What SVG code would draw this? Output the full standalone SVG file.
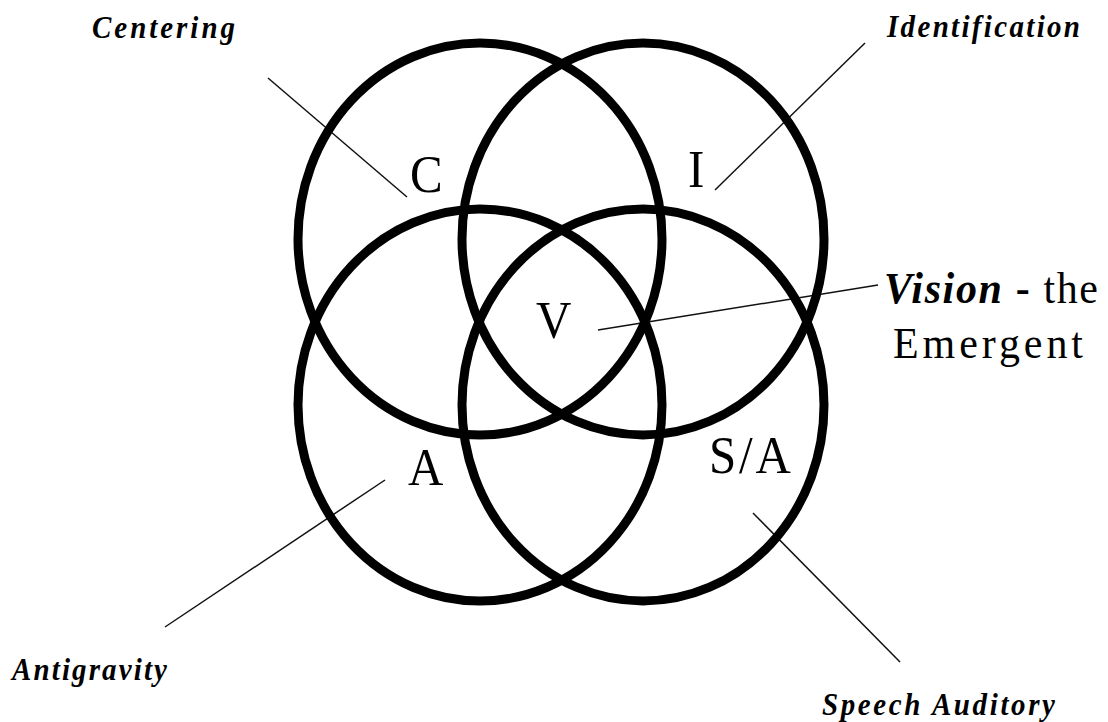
<svg xmlns="http://www.w3.org/2000/svg" width="1108" height="722" viewBox="0 0 1108 722">
<style>
.ring{fill:none;stroke:#000;stroke-width:9}
.lead{stroke:#111;stroke-width:1.5;fill:none}
.letter{font-family:"Liberation Serif","Times New Roman",serif;font-size:49px;fill:#000}
.lab{font-family:"Liberation Serif","Times New Roman",serif;font-size:29px;font-weight:bold;font-style:italic;fill:#000}
.big{font-family:"Liberation Serif","Times New Roman",serif;font-size:42px;fill:#000}
</style>
<rect width="1108" height="722" fill="#fff"/>
<g id="connectors">
<line class="lead" x1="268" y1="78" x2="407" y2="197"/>
<line class="lead" x1="865" y1="43" x2="715" y2="190"/>
<line class="lead" x1="598" y1="330" x2="878" y2="285"/>
<line class="lead" x1="385" y1="480" x2="165" y2="627"/>
<line class="lead" x1="753" y1="513" x2="900" y2="662"/>
</g>
<g id="node-C">
<ellipse class="ring" cx="480" cy="239" rx="182" ry="196"/>
<g transform="translate(410,191.5) scale(1,1.077)"><text class="letter">C</text></g>
</g>
<g id="node-I">
<ellipse class="ring" cx="643" cy="239" rx="181" ry="196"/>
<g transform="translate(688,187) scale(1,1.077)"><text class="letter">I</text></g>
</g>
<g id="node-A">
<ellipse class="ring" cx="480" cy="405" rx="182" ry="196"/>
<g transform="translate(408,485) scale(1,1.077)"><text class="letter">A</text></g>
</g>
<g id="node-SA">
<ellipse class="ring" cx="643" cy="405" rx="181" ry="196"/>
<g transform="translate(709,473) scale(1,1.077)"><text class="letter" textLength="82" lengthAdjust="spacing">S/A</text></g>
</g>
<g id="node-V">
<g transform="translate(536,338) scale(1,1.077)"><text class="letter">V</text></g>
</g>
<g id="label-centering">
<g transform="translate(92,38) scale(1,1.077)"><text class="lab" textLength="143" lengthAdjust="spacing">Centering</text></g>
</g>
<g id="label-identification">
<g transform="translate(887,37) scale(1,1.077)"><text class="lab" textLength="193" lengthAdjust="spacing">Identification</text></g>
</g>
<g id="label-antigravity">
<g transform="translate(12,680) scale(1,1.077)"><text class="lab" textLength="155" lengthAdjust="spacing">Antigravity</text></g>
</g>
<g id="label-speech">
<g transform="translate(822,715) scale(1,1.077)"><text class="lab" textLength="233" lengthAdjust="spacing">Speech Auditory</text></g>
</g>
<g id="label-vision">
<g transform="translate(884,303) scale(1,1.077)"><text class="big" textLength="214" lengthAdjust="spacing"><tspan font-weight="bold" font-style="italic">Vision</tspan><tspan font-weight="bold"> - </tspan><tspan>the</tspan></text></g>
<g transform="translate(893,358) scale(1,1.077)"><text class="big" textLength="190" lengthAdjust="spacing">Emergent</text></g>
</g>
</svg>
